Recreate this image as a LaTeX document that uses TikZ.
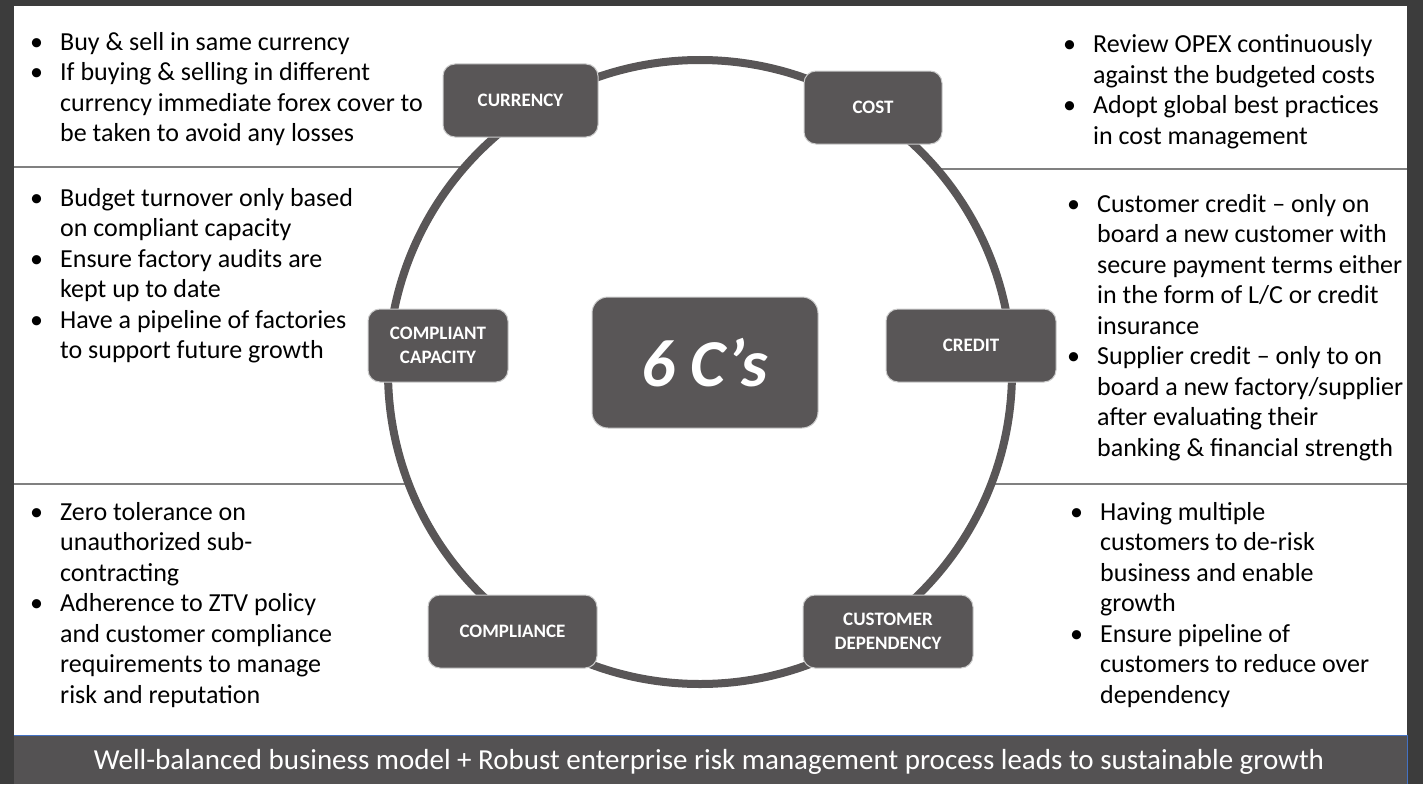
\documentclass[tikz,border=0pt]{standalone}
\usepackage{fontspec}
\setmainfont{Carlito}
\usetikzlibrary{positioning}

\definecolor{boxgrey}{HTML}{595657}
\definecolor{framegrey}{HTML}{3C3C3C}
\definecolor{bargrey}{HTML}{545253}
\definecolor{rulegrey}{HTML}{808080}
\definecolor{barblue}{HTML}{4472C4}

\newcommand{\bul}{\makebox[30pt][l]{\textbullet}}
\newcommand{\nob}{\hspace*{30pt}}

\begin{document}
\begin{tikzpicture}[x=1pt, y=-1pt,
                box/.style = {
                    rectangle, rounded corners=12pt,
                    fill=boxgrey, draw=black!20, line width=1pt,
                    text=white, inner sep=0pt,
                    minimum height=73pt, align=center,
                    font=\bfseries\fontsize{19}{24}\selectfont
                },
                txt/.style = {
                    anchor=base west, align=left, inner sep=0pt,
                    font=\fontsize{26}{30.5}\selectfont
                },
                sep/.style = {
                    draw=rulegrey, line width=1.5pt
                },
                ring/.style = {
                    draw=boxgrey, line width=8pt
                }
                ]

                \useasboundingbox (0,0) rectangle (1423,784);
                \fill[framegrey] (0,0) rectangle (1423,784);
                \fill[white] (14,6) rectangle (1407,735);
                \fill[bargrey] (14,735) rectangle (1407,784);
                \draw[barblue, line width=1pt] (14,735) -- (1407,735) -- (1407,784);

                % separators meet the ring
                \coordinate (ctr) at (700,372);
                \coordinate (lu) at (14,167);
                \coordinate (lur) at (465.3,167);
                \coordinate (ru) at (937,169);
                \coordinate (rur) at (1407,169);
                \coordinate (ll) at (14,484);
                \coordinate (llr) at (408.8,484);
                \coordinate (rl) at (991.2,484);
                \coordinate (rlr) at (1407,484);
                \path[sep] (lu) -- (lur);
                \path[sep] (ru) -- (rur);
                \path[sep] (ll) -- (llr);
                \path[sep] (rl) -- (rlr);

                \path[ring] (ctr) circle[radius=312pt];

                \node[box, minimum width=155pt] (currency) at (520.5,100.5) {CURRENCY};
                \node[box, minimum width=138pt] (cost) at (873,107.5) {COST};
                \node[box, minimum width=140pt] (capacity) at (438,345.5) {COMPLIANT\\CAPACITY};
                \node[box, minimum width=170pt] (credit) at (971,345.5) {CREDIT};
                \node[box, minimum width=169pt] (compliance) at (512.5,631.5) {COMPLIANCE};
                \node[box, minimum width=170pt] (dependency) at (888,631.5) {CUSTOMER\\DEPENDENCY};
                \node[box, minimum width=226pt, minimum height=131pt, rounded corners=16pt,
                      font=\bfseries\itshape\fontsize{67}{67}\selectfont] (six) at (705,362.5) {6 C’s};

                % base anchor = last line of each block
                \node[txt] (currtxt) at (30,141.5) {\bul Buy \& sell in same currency\\
                    \bul If buying \& selling in different\\
                    \nob currency immediate forex cover to\\
                    \nob be taken to avoid any losses};
                \node[txt] (costtxt) at (1063,144) {\bul Review OPEX continuously\\
                    \nob against the budgeted costs\\
                    \bul Adopt global best practices\\
                    \nob in cost management};
                \node[txt] (capatxt) at (30,358.5) {\bul Budget turnover only based\\
                    \nob on compliant capacity\\
                    \bul Ensure factory audits are\\
                    \nob kept up to date\\
                    \bul Have a pipeline of factories\\
                    \nob to support future growth};
                \node[txt] (credtxt) at (1067,456) {\bul Customer credit -- only on\\
                    \nob board a new customer with\\
                    \nob secure payment terms either\\
                    \nob in the form of L/C or credit\\
                    \nob insurance\\
                    \bul Supplier credit -- only to on\\
                    \nob board a new factory/supplier\\
                    \nob after evaluating their\\
                    \nob banking \& financial strength};
                \node[txt] (compltxt) at (30,703) {\bul Zero tolerance on\\
                    \nob unauthorized sub-\\
                    \nob contracting\\
                    \bul Adherence to ZTV policy\\
                    \nob and customer compliance\\
                    \nob requirements to manage\\
                    \nob risk and reputation};
                \node[txt] (deptxt) at (1070,703) {\bul Having multiple\\
                    \nob customers to de-risk\\
                    \nob business and enable\\
                    \nob growth\\
                    \bul Ensure pipeline of\\
                    \nob customers to reduce over\\
                    \nob dependency};

                \node[text=white, font=\fontsize{29}{32}\selectfont] (motto) at (709,762)
                    {Well-balanced business model + Robust enterprise risk management process leads to sustainable growth};
            \end{tikzpicture}
\end{document}
